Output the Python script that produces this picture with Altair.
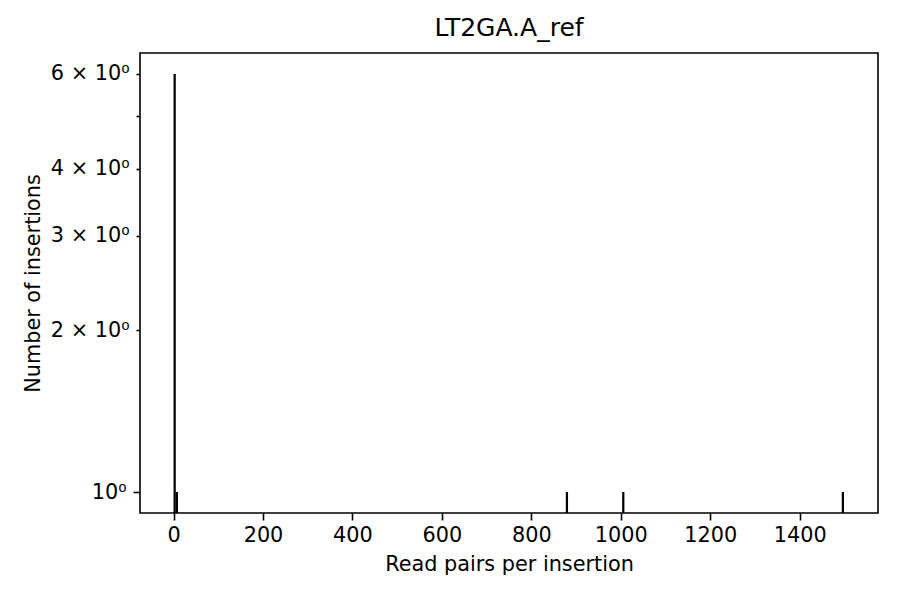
import altair as alt
import pandas as pd

bin_start = [0, 5, 877, 1003, 1494]
bin_end = [5, 10, 882, 1008, 1499]
counts = [6, 1, 1, 1, 1]

x_ticks = [0, 200, 400, 600, 800, 1000, 1200, 1400]
y_ticks = [1, 2, 3, 4, 5, 6]
y_labels = {1: "10⁰", 2: "2 × 10⁰", 3: "3 × 10⁰", 4: "4 × 10⁰", 5: "", 6: "6 × 10⁰"}

df = pd.DataFrame({"start": bin_start, "end": bin_end, "count": counts})

label_expr = " : ".join(
    [f"datum.value == {k} ? '{v}'" for k, v in y_labels.items()]
) + " : ''"

font = "DejaVu Sans"
fs = 20.8

chart = (
    alt.Chart(df)
    .mark_bar(color="black", strokeWidth=0)
    .encode(
        x=alt.X(
            "start:Q",
            scale=alt.Scale(domain=[-75, 1575], nice=False, zero=False),
            axis=alt.Axis(
                values=x_ticks,
                format="d",
                title="Read pairs per insertion",
                grid=False,
                tickSize=7,
                tickWidth=1.6,
                tickColor="black",
                domain=False,
                labelFontSize=fs,
                labelColor="black",
                labelFont=font,
                labelPadding=5,
                titleFontSize=fs,
                titleFont=font,
                titleFontWeight="normal",
                titleColor="black",
                titlePadding=10,
            ),
        ),
        x2="end:Q",
        y=alt.Y(
            "count:Q",
            scale=alt.Scale(type="log", domain=[0.9141, 6.5635], nice=False),
            axis=alt.Axis(
                values=y_ticks,
                labelExpr=label_expr,
                title="Number of insertions",
                grid=False,
                tickSize={"condition": {"test": "datum.value == 1", "value": 7}, "value": 4},
                tickWidth=1.6,
                tickColor="black",
                domain=False,
                labelFontSize=fs,
                labelColor="black",
                labelFont=font,
                labelPadding=7,
                titleFontSize=fs,
                titleFont=font,
                titleFontWeight="normal",
                titleColor="black",
                titlePadding=7,
            ),
        ),
        y2=alt.value(460),
    )
    .properties(
        width=738,
        height=460,
        background="white",
        title=alt.TitleParams(
            "LT2GA.A_ref", fontSize=25, font=font, fontWeight="normal", color="black", offset=12
        ),
        autosize=alt.AutoSizeParams(type="none"),
        padding={"left": 132, "top": 45, "right": 14, "bottom": 79},
    )
    .configure_view(stroke="black", strokeWidth=1.6)
)

chart.save("out.html", embed_options={"renderer": "svg", "actions": False})
